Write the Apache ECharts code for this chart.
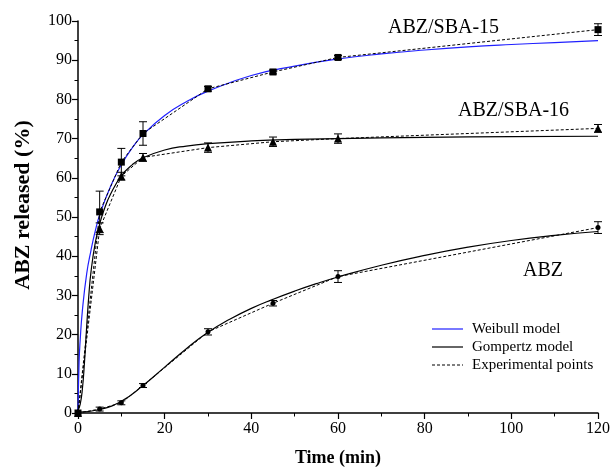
<!DOCTYPE html>
<html>
<head>
<meta charset="utf-8">
<script src="https://cdn.jsdelivr.net/npm/echarts@6/dist/echarts.min.js"></script>
<style>html,body{margin:0;padding:0;background:#fff}#c{width:613px;height:472px}</style>
</head>
<body>
<div id="c"></div>
<script>
// Experimental points
const timeExp = [0, 5, 10, 15, 30, 45, 60, 120];
const sba15Exp = [0, 51.3, 64, 71.3, 82.7, 87, 90.7, 97.8];
const sba15Err = [0, 5.3, 3.5, 3, 0.6, 0.5, 0.5, 1.5];
const sba16Exp = [0, 47, 60.4, 65.2, 67.7, 69.2, 70, 72.6];
const sba16Err = [0, 1.5, 1, 1, 1.2, 1.2, 1.2, 1];
const abzExp = [0, 1, 2.6, 7, 20.7, 28, 34.8, 47.3];
const abzErr = [0, 0.5, 0.5, 0.5, 0.8, 0.7, 1.5, 1.5];

// Weibull model (ABZ/SBA-15)
const weibullT = [0, 0.25, 0.5, 1, 2, 3, 4, 5, 7.5, 10, 12.5, 15, 20, 25, 30, 40, 50, 60, 70, 80, 90, 100, 110, 120];
const weibullSBA15 = [0, 13, 18.5, 26, 35.5, 41.5, 46.5, 50.5, 57.8, 63.3, 67.6, 71, 75.9, 79.4, 82.1, 86.1, 88.5, 90.3, 91.6, 92.6, 93.4, 94.0, 94.5, 95.0];

// Gompertz model (ABZ/SBA-16)
const gompT16 = [0, 0.5, 1, 1.5, 2, 2.5, 3, 4, 5, 6, 7.5, 10, 12.5, 15, 20, 25, 30, 40, 50, 60, 80, 100, 120];
const gomp16 = [0.7, 2.2, 6, 13, 22, 30, 36, 43.5, 48.2, 51.8, 55.8, 60.5, 63.3, 65.1, 67.1, 68.1, 68.7, 69.4, 69.8, 70.0, 70.3, 70.5, 70.6];

// Gompertz model (ABZ)
const gompTabz = [0, 5, 10, 15, 20, 25, 30, 35, 40, 45, 50, 55, 60, 70, 80, 90, 100, 110, 120];
const gompAbz = [0.2, 0.9, 3.0, 7.0, 11.7, 16.4, 20.6, 23.9, 26.7, 29.0, 31.1, 33.0, 34.7, 37.7, 40.2, 42.3, 44.0, 45.3, 46.3];

const xTicks = [0, 20, 40, 60, 80, 100, 120];
const yTicks = [0, 10, 20, 30, 40, 50, 60, 70, 80, 90, 100];
const legendNames = ['Weibull model', 'Gompertz model', 'Experimental points'];
const seriesLabels = ['ABZ/SBA-15', 'ABZ/SBA-16', 'ABZ'];
const yTitle = 'ABZ released (%)';

const FONT = "'Liberation Serif', 'Times New Roman', serif";
const BLUE = '#2020ff';
const zip = (a, b) => a.map((v, i) => [v, b[i]]);
const errData = (v, e) => timeExp.map((t, i) => [t, v[i] - e[i], v[i] + e[i]]).filter((d, i) => e[i] > 0);

function renderErr(params, api) {
  const x = api.value(0), lo = api.value(1), hi = api.value(2);
  const p1 = api.coord([x, hi]), p2 = api.coord([x, lo]);
  const w = 4;
  const st = { stroke: '#000', lineWidth: 1 };
  return {
    type: 'group',
    children: [
      { type: 'line', shape: { x1: p1[0], y1: p1[1], x2: p2[0], y2: p2[1] }, style: st },
      { type: 'line', shape: { x1: p1[0] - w, y1: p1[1], x2: p1[0] + w, y2: p1[1] }, style: st },
      { type: 'line', shape: { x1: p2[0] - w, y1: p2[1], x2: p2[0] + w, y2: p2[1] }, style: st }
    ]
  };
}

const dashStyle = { color: '#000', width: 1, type: [3, 2] };
const modelBase = { type: 'line', showSymbol: false, symbol: 'none', smooth: 0.5, z: 3 };

// legend drawn as graphic (line samples + text)
const legendColors = [BLUE, '#000', '#000'];
const legendDash = [null, null, [3, 2]];
const legendGraphic = [];
legendNames.forEach((n, i) => {
  const y = 329 + i * 18;
  legendGraphic.push({ type: 'line', shape: { x1: 432, y1: y, x2: 463, y2: y },
    style: { stroke: legendColors[i], lineWidth: 1.2, lineDash: legendDash[i] } });
  legendGraphic.push({ type: 'text', x: 472, y: y,
    style: { text: n, font: "15px 'Liberation Serif', serif", fill: '#000', verticalAlign: 'middle' } });
});

const chart = echarts.init(document.getElementById('c'), null, { renderer: 'canvas' });
chart.setOption({
  animation: false,
  backgroundColor: '#fff',
  textStyle: { fontFamily: FONT, color: '#000' },
  grid: { left: 78, right: 13, top: 21, bottom: 56, containLabel: false },
  xAxis: {
    type: 'value', min: 0, max: 120, interval: 20,
    name: 'Time (min)', nameLocation: 'middle', nameGap: 36,
    nameTextStyle: { fontFamily: FONT, fontSize: 18, fontWeight: 'bold', color: '#000' },
    axisLine: { show: true, onZero: false, lineStyle: { color: '#000', width: 1.5 } },
    axisTick: { show: true, inside: false, length: 6, lineStyle: { color: '#000', width: 1.2 } },
    minorTick: { show: true, splitNumber: 2, length: 3.5, lineStyle: { color: '#000', width: 1 } },
    splitLine: { show: false },
    axisLabel: { fontFamily: FONT, fontSize: 16, color: '#000', margin: 8,
      formatter: v => xTicks.includes(v) ? String(v) : '' }
  },
  yAxis: {
    type: 'value', min: 0, max: 100, interval: 10,
    axisLine: { show: true, onZero: false, lineStyle: { color: '#000', width: 1.5 } },
    axisTick: { show: true, inside: false, length: 6, lineStyle: { color: '#000', width: 1.2 } },
    minorTick: { show: true, splitNumber: 2, length: 3.5, lineStyle: { color: '#000', width: 1 } },
    splitLine: { show: false },
    axisLabel: { fontFamily: FONT, fontSize: 16, color: '#000', margin: 6,
      formatter: v => yTicks.includes(v) ? String(v) : '' }
  },
  graphic: [
    { type: 'text', x: 23, y: 205, rotation: Math.PI / 2,
      style: { text: yTitle, font: "bold 22px 'Liberation Serif', serif", fill: '#000', align: 'center', verticalAlign: 'middle' } },
    { type: 'text', left: 388, top: 18, style: { text: seriesLabels[0], font: "20px 'Liberation Serif', serif", fill: '#000' } },
    { type: 'text', left: 458, top: 101, style: { text: seriesLabels[1], font: "20px 'Liberation Serif', serif", fill: '#000' } },
    { type: 'text', left: 523, top: 261, style: { text: seriesLabels[2], font: "20px 'Liberation Serif', serif", fill: '#000' } }
  ].concat(legendGraphic),
  series: [
    // experimental dashed lines with markers
    { name: 'SBA-15 exp', type: 'line', data: zip(timeExp, sba15Exp), symbol: 'rect', symbolSize: 7,
      lineStyle: dashStyle, itemStyle: { color: '#000' }, z: 4 },
    { name: 'SBA-16 exp', type: 'line', data: zip(timeExp, sba16Exp), symbol: 'triangle', symbolSize: 8,
      lineStyle: dashStyle, itemStyle: { color: '#000' }, z: 4 },
    { name: 'ABZ exp', type: 'line', data: zip(timeExp, abzExp), symbol: 'circle', symbolSize: 5,
      lineStyle: dashStyle, itemStyle: { color: '#000' }, z: 4 },

    // models
    Object.assign({}, modelBase, { name: 'Weibull SBA-15', data: zip(weibullT, weibullSBA15), lineStyle: { color: BLUE, width: 1.2 } }),
    Object.assign({}, modelBase, { name: 'Gompertz SBA-16', data: zip(gompT16, gomp16), lineStyle: { color: '#000', width: 1.2 } }),
    Object.assign({}, modelBase, { name: 'Gompertz ABZ', data: zip(gompTabz, gompAbz), lineStyle: { color: '#000', width: 1.2 } }),

    // error bars
    { name: 'err15', type: 'custom', renderItem: renderErr, data: errData(sba15Exp, sba15Err), z: 5, encode: { x: 0, y: [1, 2] } },
    { name: 'err16', type: 'custom', renderItem: renderErr, data: errData(sba16Exp, sba16Err), z: 5, encode: { x: 0, y: [1, 2] } },
    { name: 'errAbz', type: 'custom', renderItem: renderErr, data: errData(abzExp, abzErr), z: 5, encode: { x: 0, y: [1, 2] } }
  ]
});
</script>
</body>
</html>
